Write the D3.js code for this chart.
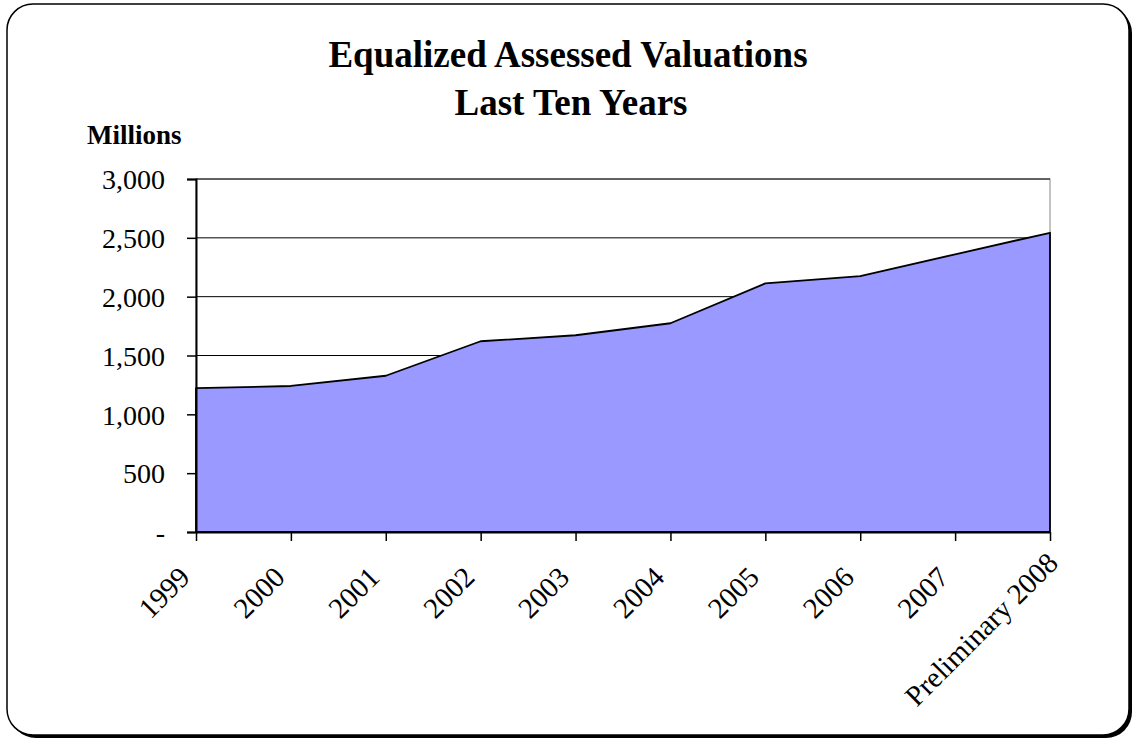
<!DOCTYPE html>
<html>
<head>
<meta charset="utf-8">
<script src="https://cdn.jsdelivr.net/npm/d3@7"></script>
<style>
  body { margin: 0; background: #fff; }
  text { font-family: "Liberation Serif", "Times New Roman", serif; fill: #000; }
</style>
</head>
<body>
<svg id="chart" width="1134" height="740"></svg>
<script>
// data (millions)
var years = ["1999", "2000", "2001", "2002", "2003", "2004", "2005", "2006", "2007", "Preliminary 2008"];
var valuations = [1222, 1241, 1328, 1621, 1672, 1774, 2113, 2175, 2360, 2543];
var yTicks = [0, 500, 1000, 1500, 2000, 2500, 3000];

var svg = d3.select("#chart");

// frame with a shadow
svg.append("rect")
  .attr("x", 10).attr("y", 7).attr("width", 1122).attr("height", 731)
  .attr("rx", 26).attr("ry", 26)
  .attr("fill", "#000");
svg.append("rect")
  .attr("x", 7).attr("y", 4).attr("width", 1122).attr("height", 731)
  .attr("rx", 26).attr("ry", 26)
  .attr("fill", "#fff").attr("stroke", "#000").attr("stroke-width", 1.5);

// titles
svg.append("text").attr("x", 568).attr("y", 67)
  .attr("text-anchor", "middle").attr("font-size", 37).attr("font-weight", "bold")
  .text("Equalized Assessed Valuations");
svg.append("text").attr("x", 571).attr("y", 115)
  .attr("text-anchor", "middle").attr("font-size", 37).attr("font-weight", "bold")
  .text("Last Ten Years");
svg.append("text").attr("x", 87).attr("y", 144)
  .attr("font-size", 27).attr("font-weight", "bold")
  .text("Millions");

var pLeft = 196, pRight = 1050, pTop = 179, pBottom = 532;

var x = d3.scalePoint().domain(years).range([pLeft, pRight]);
var y = d3.scaleLinear().domain([0, 3000]).range([pBottom, pTop]);

// plot border
svg.append("rect")
  .attr("x", pLeft).attr("y", pTop).attr("width", pRight - pLeft).attr("height", pBottom - pTop)
  .attr("fill", "none").attr("stroke", "#888").attr("stroke-width", 1);

// gridlines
svg.append("g").selectAll("line")
  .data(yTicks.filter(d => d > 0))
  .join("line")
  .attr("x1", pLeft).attr("x2", pRight)
  .attr("y1", d => y(d)).attr("y2", d => y(d))
  .attr("stroke", "#000").attr("stroke-width", 1);

// area
var area = d3.area()
  .x((d, i) => x(years[i]))
  .y0(pBottom)
  .y1(d => y(d));

svg.append("path")
  .datum(valuations)
  .attr("d", area)
  .attr("fill", "#9999ff")
  .attr("stroke", "#000").attr("stroke-width", 1.8)
  .attr("stroke-linejoin", "round");

// y axis
var yAxis = d3.axisLeft(y)
  .tickValues(yTicks)
  .tickSize(9)
  .tickPadding(22)
  .tickFormat(d => d === 0 ? "-" : d3.format(",")(d));

var gy = svg.append("g").attr("transform", "translate(" + pLeft + ",0)").call(yAxis);
gy.select(".domain").attr("stroke", "#000").attr("stroke-width", 2);
gy.selectAll(".tick line").attr("stroke", "#000").attr("stroke-width", 1.5);
gy.selectAll(".tick text")
  .attr("font-family", "Liberation Serif, Times New Roman, serif")
  .attr("font-size", 28).attr("fill", "#000").attr("dy", "0.35em");

// x axis, labels at -45 degrees, long ones pushed a little further out
var xAxis = d3.axisBottom(x).tickSize(9).tickSizeOuter(0);
var gx = svg.append("g").attr("transform", "translate(0," + pBottom + ")").call(xAxis);
gx.select(".domain").attr("stroke", "#000").attr("stroke-width", 2);
gx.selectAll(".tick line").attr("stroke", "#000").attr("stroke-width", 1.5);
gx.selectAll(".tick text")
  .attr("font-family", "Liberation Serif, Times New Roman, serif")
  .attr("font-size", 29).attr("fill", "#000")
  .attr("text-anchor", "end")
  .attr("dy", null)
  .attr("y", 0)
  .attr("transform", "translate(-5,47) rotate(-45)")
  .attr("x", function() { return 0.14 * (this.getComputedTextLength() - 58); });
</script>
</body>
</html>
